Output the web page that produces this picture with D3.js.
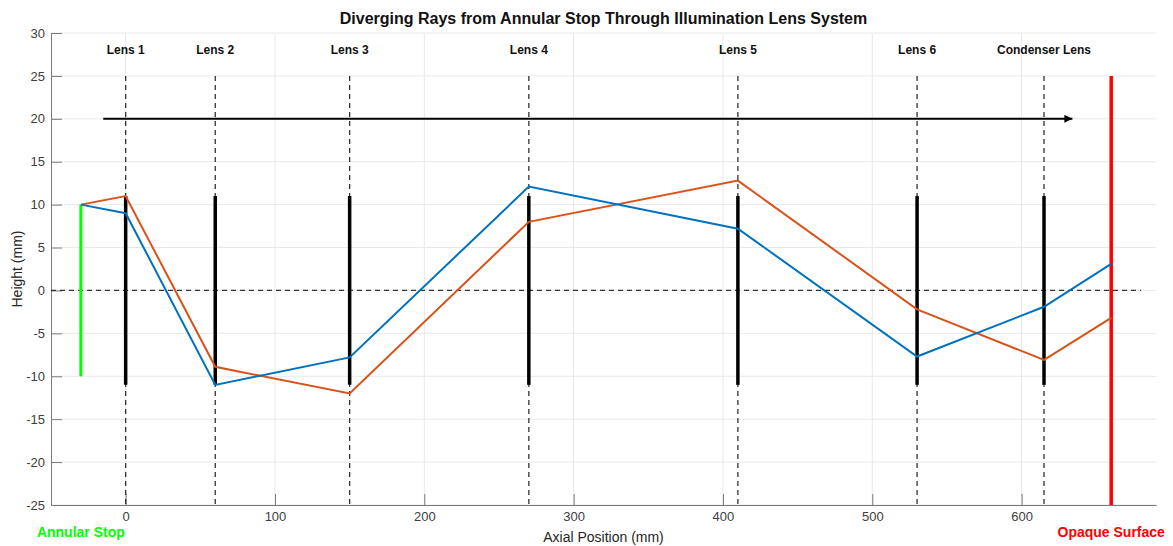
<!DOCTYPE html>
<html>
<head>
<meta charset="utf-8">
<script src="https://cdn.jsdelivr.net/npm/d3@7"></script>
<style>
  body { margin: 0; background: #fff; }
  svg { font-family: "Liberation Sans", Arial, sans-serif; }
</style>
</head>
<body>
<div id="chart"></div>
<script>
width = 1173
height = 546
margin = ({ top: 33, right: 17, bottom: 41, left: 51 })

// lens positions (mm) and names
lensX = [0, 60, 150, 270, 410, 530, 615]
lensNames = ["Lens 1", "Lens 2", "Lens 3", "Lens 4", "Lens 5", "Lens 6", "Condenser Lens"]
lensHalf = 11

stopX = -30
stopHalf = 10
screenX = 660

// ray heights at stop, each lens and the screen
rayX = [-30, 0, 60, 150, 270, 410, 530, 615, 660]
rayBlue = [10, 9, -11, -7.8, 12.1, 7.2, -7.7, -1.9, 3.1]
rayOrange = [10, 11, -8.9, -12, 8, 12.8, -2.2, -8.1, -3.2]

xTicks = [0, 100, 200, 300, 400, 500, 600]
yTicks = [30, 25, 20, 15, 10, 5, 0, -5, -10, -15, -20, -25]

x = d3.scaleLinear([-50, 690], [margin.left, width - margin.right])
y = d3.scaleLinear([-25, 30], [height - margin.bottom, margin.top])

const svg = d3.select("#chart").append("svg")
    .attr("width", width)
    .attr("height", height)

// grid
svg.append("g")
    .attr("stroke", "#e8e8e8")
    .attr("stroke-width", 1)
    .call(g => g.selectAll("line.gx").data(xTicks).join("line")
        .attr("x1", d => x(d)).attr("x2", d => x(d))
        .attr("y1", y(30)).attr("y2", y(-25)))
    .call(g => g.selectAll("line.gy").data(yTicks).join("line")
        .attr("y1", d => y(d)).attr("y2", d => y(d))
        .attr("x1", x(-50)).attr("x2", x(690)))

// axes (plain hyphen minus like the original)
xAxis = g => g
    .attr("transform", `translate(0,${y(-25)})`)
    .call(d3.axisBottom(x).tickValues(xTicks).tickFormat(d => String(d))
        .tickSizeInner(-11).tickSizeOuter(0).tickPadding(7))
    .call(g => g.select(".domain").attr("stroke", "#7a7a7a"))
    .call(g => g.selectAll(".tick line").attr("stroke", "#7a7a7a"))
    .call(g => g.selectAll(".tick text").attr("fill", "#404040").attr("font-size", 13))

yAxis = g => g
    .attr("transform", `translate(${x(-50)},0)`)
    .call(d3.axisLeft(y).tickValues(yTicks).tickFormat(d => String(d))
        .tickSizeInner(-11).tickSizeOuter(0).tickPadding(6))
    .call(g => g.select(".domain").attr("stroke", "#7a7a7a"))
    .call(g => g.selectAll(".tick line").attr("stroke", "#7a7a7a"))
    .call(g => g.selectAll(".tick text").attr("fill", "#404040").attr("font-size", 13))

svg.append("g").call(xAxis).attr("font-family", null)
svg.append("g").call(yAxis).attr("font-family", null)

// zero axis line
svg.append("line")
    .attr("x1", x(-50)).attr("x2", x(680))
    .attr("y1", y(0)).attr("y2", y(0))
    .attr("stroke", "#333").attr("stroke-width", 1.3)
    .attr("stroke-dasharray", "5,4")

// lens dashed guides
svg.append("g").selectAll("line").data(lensX).join("line")
    .attr("x1", d => x(d)).attr("x2", d => x(d))
    .attr("y1", y(25)).attr("y2", y(-25))
    .attr("stroke", "#333").attr("stroke-width", 1.3)
    .attr("stroke-dasharray", "5,4")

// lens labels
svg.append("g").selectAll("text").data(lensNames).join("text")
    .attr("x", (d, i) => x(lensX[i]))
    .attr("y", y(28.1))
    .attr("dy", "0.35em")
    .attr("text-anchor", "middle")
    .attr("font-size", 12)
    .attr("font-weight", "bold")
    .attr("fill", "#111")
    .text(d => d)

// direction arrow
svg.append("defs").append("marker")
    .attr("id", "arrow")
    .attr("viewBox", "0 0 10 10")
    .attr("refX", 10).attr("refY", 5)
    .attr("markerWidth", 10).attr("markerHeight", 8)
    .attr("markerUnits", "userSpaceOnUse")
    .attr("orient", "auto")
    .append("path").attr("d", "M0,0L10,5L0,10Z").attr("fill", "#000")

svg.append("line")
    .attr("x1", x(-15)).attr("x2", x(634))
    .attr("y1", y(20)).attr("y2", y(20))
    .attr("stroke", "#000").attr("stroke-width", 2)
    .attr("marker-end", "url(#arrow)")

// annular stop
svg.append("line")
    .attr("x1", x(stopX)).attr("x2", x(stopX))
    .attr("y1", y(stopHalf)).attr("y2", y(-stopHalf))
    .attr("stroke", "#00ff00").attr("stroke-width", 3)

// lenses
svg.append("g").selectAll("line").data(lensX).join("line")
    .attr("x1", d => x(d)).attr("x2", d => x(d))
    .attr("y1", y(lensHalf)).attr("y2", y(-lensHalf))
    .attr("stroke", "#000").attr("stroke-width", 3.5)

// opaque surface
svg.append("line")
    .attr("x1", x(screenX)).attr("x2", x(screenX))
    .attr("y1", y(25)).attr("y2", y(-25))
    .attr("stroke", "#ff0000").attr("stroke-width", 3.5)

// rays
line = d3.line().x((d, i) => x(rayX[i])).y(d => y(d))
svg.append("path").datum(rayOrange)
    .attr("d", line).attr("fill", "none")
    .attr("stroke", "#D95319").attr("stroke-width", 2)
svg.append("path").datum(rayBlue)
    .attr("d", line).attr("fill", "none")
    .attr("stroke", "#0072BD").attr("stroke-width", 2)

// end labels
svg.append("text")
    .attr("x", x(stopX)).attr("y", y(-28.1)).attr("dy", "0.35em")
    .attr("text-anchor", "middle")
    .attr("font-size", 14).attr("font-weight", "bold")
    .attr("fill", "#00ff00")
    .text("Annular Stop")

svg.append("text")
    .attr("x", x(screenX)).attr("y", y(-28.1)).attr("dy", "0.35em")
    .attr("text-anchor", "middle")
    .attr("font-size", 14).attr("font-weight", "bold")
    .attr("fill", "#ff0000")
    .text("Opaque Surface")

// axis titles
svg.append("text")
    .attr("x", (x(-50) + x(690)) / 2).attr("y", 542)
    .attr("text-anchor", "middle")
    .attr("font-size", 14).attr("fill", "#262626")
    .text("Axial Position (mm)")

svg.append("text")
    .attr("transform", `translate(22,${y(2.5)}) rotate(-90)`)
    .attr("text-anchor", "middle")
    .attr("font-size", 14).attr("fill", "#262626")
    .text("Height (mm)")

svg.append("text")
    .attr("x", (x(-50) + x(690)) / 2).attr("y", 24)
    .attr("text-anchor", "middle")
    .attr("font-size", 16).attr("font-weight", "bold")
    .attr("fill", "#111")
    .text("Diverging Rays from Annular Stop Through Illumination Lens System")
</script>
</body>
</html>
